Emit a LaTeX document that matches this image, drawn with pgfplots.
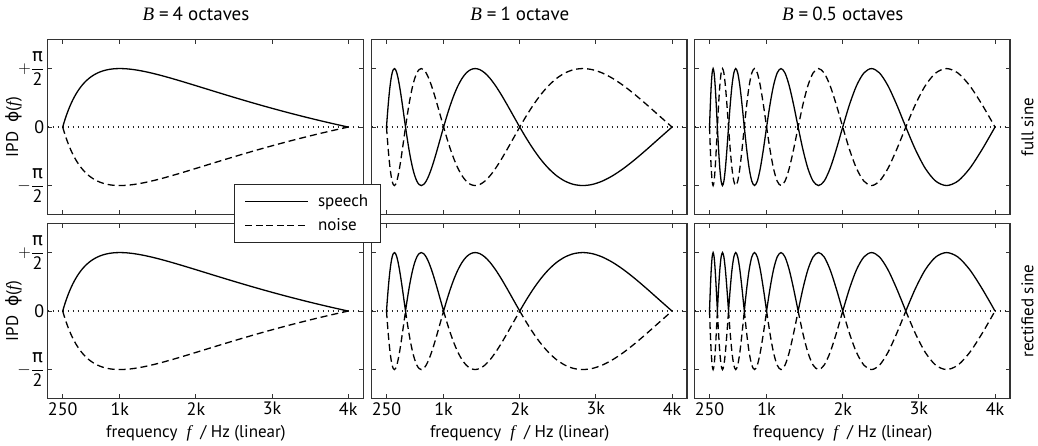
\documentclass[border=0pt]{standalone}
\usepackage{amsmath}
\usepackage{fontspec}
\setmainfont{PT Sans}
\newfontfamily\grk{DejaVu Sans}
\newfontfamily\serif{Liberation Serif}
\usepackage{pgfplots}
\pgfplotsset{compat=1.18}
\usepackage{pgfplotstable}

\newcommand\itf{{\serif\itshape f}}
\newcommand\vB{{\serif\itshape B}}
\newcommand\pifrac{\genfrac{}{}{0.7pt}{0}{\mbox{\grk π}}{\mbox{2}}}
\newcommand\fs{\fontsize{17}{20}\selectfont}
\newcommand\ft{\fontsize{18}{21}\selectfont}
\newcommand\fT{\fontsize{19}{22}\selectfont}

% f, full sine: B=4 (s4,n4), B=1 (s1,n1), B=0.5 (s5,n5); y in units of pi/2
\pgfplotstableread{
f s4 n4 s1 n1 s5 n5
250.00 0 0 0 0 0 0
261.07 .0491 -.0491 .1951 -.1951 .3827 -.3827
272.63 .0980 -.0980 .3827 -.3827 .7071 -.7071
284.70 .1467 -.1467 .5556 -.5556 .9239 -.9239
297.30 .1951 -.1951 .7071 -.7071 1 -1
310.46 .2430 -.2430 .8315 -.8315 .9239 -.9239
324.21 .2903 -.2903 .9239 -.9239 .7071 -.7071
338.56 .3369 -.3369 .9808 -.9808 .3827 -.3827
353.55 .3827 -.3827 1 -1 0 0
369.21 .4276 -.4276 .9808 -.9808 -.3827 .3827
385.55 .4714 -.4714 .9239 -.9239 -.7071 .7071
402.62 .5141 -.5141 .8315 -.8315 -.9239 .9239
420.45 .5556 -.5556 .7071 -.7071 -1 1
439.06 .5957 -.5957 .5556 -.5556 -.9239 .9239
458.50 .6344 -.6344 .3827 -.3827 -.7071 .7071
478.80 .6716 -.6716 .1951 -.1951 -.3827 .3827
500.00 .7071 -.7071 0 0 0 0
522.13 .7410 -.7410 -.1951 .1951 .3827 -.3827
545.25 .7730 -.7730 -.3827 .3827 .7071 -.7071
569.39 .8032 -.8032 -.5556 .5556 .9239 -.9239
594.60 .8315 -.8315 -.7071 .7071 1 -1
620.93 .8577 -.8577 -.8315 .8315 .9239 -.9239
648.42 .8819 -.8819 -.9239 .9239 .7071 -.7071
677.13 .9040 -.9040 -.9808 .9808 .3827 -.3827
707.11 .9239 -.9239 -1 1 0 0
738.41 .9415 -.9415 -.9808 .9808 -.3827 .3827
771.11 .9569 -.9569 -.9239 .9239 -.7071 .7071
805.25 .9700 -.9700 -.8315 .8315 -.9239 .9239
840.90 .9808 -.9808 -.7071 .7071 -1 1
878.13 .9892 -.9892 -.5556 .5556 -.9239 .9239
917.00 .9952 -.9952 -.3827 .3827 -.7071 .7071
957.60 .9988 -.9988 -.1951 .1951 -.3827 .3827
1000.00 1 -1 0 0 0 0
1044.27 .9988 -.9988 .1951 -.1951 .3827 -.3827
1090.51 .9952 -.9952 .3827 -.3827 .7071 -.7071
1138.79 .9892 -.9892 .5556 -.5556 .9239 -.9239
1189.21 .9808 -.9808 .7071 -.7071 1 -1
1241.86 .9700 -.9700 .8315 -.8315 .9239 -.9239
1296.84 .9569 -.9569 .9239 -.9239 .7071 -.7071
1354.26 .9415 -.9415 .9808 -.9808 .3827 -.3827
1414.21 .9239 -.9239 1 -1 0 0
1476.83 .9040 -.9040 .9808 -.9808 -.3827 .3827
1542.21 .8819 -.8819 .9239 -.9239 -.7071 .7071
1610.49 .8577 -.8577 .8315 -.8315 -.9239 .9239
1681.79 .8315 -.8315 .7071 -.7071 -1 1
1756.25 .8032 -.8032 .5556 -.5556 -.9239 .9239
1834.01 .7730 -.7730 .3827 -.3827 -.7071 .7071
1915.21 .7410 -.7410 .1951 -.1951 -.3827 .3827
2000.00 .7071 -.7071 0 0 0 0
2088.55 .6716 -.6716 -.1951 .1951 .3827 -.3827
2181.02 .6344 -.6344 -.3827 .3827 .7071 -.7071
2277.58 .5957 -.5957 -.5556 .5556 .9239 -.9239
2378.41 .5556 -.5556 -.7071 .7071 1 -1
2483.72 .5141 -.5141 -.8315 .8315 .9239 -.9239
2593.68 .4714 -.4714 -.9239 .9239 .7071 -.7071
2708.51 .4276 -.4276 -.9808 .9808 .3827 -.3827
2828.43 .3827 -.3827 -1 1 0 0
2953.65 .3369 -.3369 -.9808 .9808 -.3827 .3827
3084.42 .2903 -.2903 -.9239 .9239 -.7071 .7071
3220.98 .2430 -.2430 -.8315 .8315 -.9239 .9239
3363.59 .1951 -.1951 -.7071 .7071 -1 1
3512.50 .1467 -.1467 -.5556 .5556 -.9239 .9239
3668.02 .0980 -.0980 -.3827 .3827 -.7071 .7071
3830.41 .0491 -.0491 -.1951 .1951 -.3827 .3827
4000.00 0 0 0 0 0 0
}\fulldata

% rectified sine, B = 1 octave (r speech, m noise); nan rows separate lobes
\pgfplotstableread{
f r m
250.00 0 0
261.07 .1951 -.1951
272.63 .3827 -.3827
284.70 .5556 -.5556
297.30 .7071 -.7071
310.46 .8315 -.8315
324.21 .9239 -.9239
338.56 .9808 -.9808
353.55 1 -1
369.21 .9808 -.9808
385.55 .9239 -.9239
402.62 .8315 -.8315
420.45 .7071 -.7071
439.06 .5556 -.5556
458.50 .3827 -.3827
478.80 .1951 -.1951
500.00 0 0
nan nan nan
500.00 0 0
522.13 .1951 -.1951
545.25 .3827 -.3827
569.39 .5556 -.5556
594.60 .7071 -.7071
620.93 .8315 -.8315
648.42 .9239 -.9239
677.13 .9808 -.9808
707.11 1 -1
738.41 .9808 -.9808
771.11 .9239 -.9239
805.25 .8315 -.8315
840.90 .7071 -.7071
878.13 .5556 -.5556
917.00 .3827 -.3827
957.60 .1951 -.1951
1000.00 0 0
nan nan nan
1000.00 0 0
1044.27 .1951 -.1951
1090.51 .3827 -.3827
1138.79 .5556 -.5556
1189.21 .7071 -.7071
1241.86 .8315 -.8315
1296.84 .9239 -.9239
1354.26 .9808 -.9808
1414.21 1 -1
1476.83 .9808 -.9808
1542.21 .9239 -.9239
1610.49 .8315 -.8315
1681.79 .7071 -.7071
1756.25 .5556 -.5556
1834.01 .3827 -.3827
1915.21 .1951 -.1951
2000.00 0 0
nan nan nan
2000.00 0 0
2088.55 .1951 -.1951
2181.02 .3827 -.3827
2277.58 .5556 -.5556
2378.41 .7071 -.7071
2483.72 .8315 -.8315
2593.68 .9239 -.9239
2708.51 .9808 -.9808
2828.43 1 -1
2953.65 .9808 -.9808
3084.42 .9239 -.9239
3220.98 .8315 -.8315
3363.59 .7071 -.7071
3512.50 .5556 -.5556
3668.02 .3827 -.3827
3830.41 .1951 -.1951
4000.00 0 0
}\rectone

% rectified sine, B = 0.5 octaves
\pgfplotstableread{
f r m
250.00 0 0
261.07 .3827 -.3827
272.63 .7071 -.7071
284.70 .9239 -.9239
297.30 1 -1
310.46 .9239 -.9239
324.21 .7071 -.7071
338.56 .3827 -.3827
353.55 0 0
nan nan nan
353.55 0 0
369.21 .3827 -.3827
385.55 .7071 -.7071
402.62 .9239 -.9239
420.45 1 -1
439.06 .9239 -.9239
458.50 .7071 -.7071
478.80 .3827 -.3827
500.00 0 0
nan nan nan
500.00 0 0
522.13 .3827 -.3827
545.25 .7071 -.7071
569.39 .9239 -.9239
594.60 1 -1
620.93 .9239 -.9239
648.42 .7071 -.7071
677.13 .3827 -.3827
707.11 0 0
nan nan nan
707.11 0 0
738.41 .3827 -.3827
771.11 .7071 -.7071
805.25 .9239 -.9239
840.90 1 -1
878.13 .9239 -.9239
917.00 .7071 -.7071
957.60 .3827 -.3827
1000.00 0 0
nan nan nan
1000.00 0 0
1044.27 .3827 -.3827
1090.51 .7071 -.7071
1138.79 .9239 -.9239
1189.21 1 -1
1241.86 .9239 -.9239
1296.84 .7071 -.7071
1354.26 .3827 -.3827
1414.21 0 0
nan nan nan
1414.21 0 0
1476.83 .3827 -.3827
1542.21 .7071 -.7071
1610.49 .9239 -.9239
1681.79 1 -1
1756.25 .9239 -.9239
1834.01 .7071 -.7071
1915.21 .3827 -.3827
2000.00 0 0
nan nan nan
2000.00 0 0
2088.55 .3827 -.3827
2181.02 .7071 -.7071
2277.58 .9239 -.9239
2378.41 1 -1
2483.72 .9239 -.9239
2593.68 .7071 -.7071
2708.51 .3827 -.3827
2828.43 0 0
nan nan nan
2828.43 0 0
2953.65 .3827 -.3827
3084.42 .7071 -.7071
3220.98 .9239 -.9239
3363.59 1 -1
3512.50 .9239 -.9239
3668.02 .7071 -.7071
3830.41 .3827 -.3827
4000.00 0 0
}\rectfive

\pgfplotsset{
  panel/.style={
    scale only axis, width=315.5pt, height=175.5pt,
    anchor=north west,
    xmin=53, xmax=4197, ymin=-1.5, ymax=1.5,
    xtick={250,1000,2000,3000,4000}, ytick={-1,0,1},
    xticklabels={}, yticklabels={},
    tick align=inside, tick pos=both, major tick length=4.5pt,
    axis line style={line width=1.2pt, black!80},
    every tick/.style={line width=0.9pt, black!80},
    tick label style={font=\ft},
    label style={font=\fs},
    title style={font=\fT, at={(0.5,1)}, anchor=base, yshift=13.3pt, xshift=-9.5pt},
    unbounded coords=jump,
  },
  speech/.style={black, line width=1.3pt, smooth},
  noise/.style={black, line width=1.3pt, smooth, dash pattern=on 7pt off 4pt},
  zero/.style={black!85, line width=1.4pt, dash pattern=on 1.4pt off 3.6pt},
  bottomrow/.style={xticklabels={250,1k,2k,3k,4k},
    xlabel={frequency\ \ \itf\ \ / Hz (linear)},
    xlabel style={at={(axis description cs:0.5,0)}, anchor=base, xshift=-9.5pt, yshift=-39pt}},
  leftcol/.style={yticklabels={$-\pifrac$,0,$+\pifrac$},
    ylabel={IPD\ \ {\grk ϕ}(\itf)},
    ylabel style={at={(axis description cs:-0.081,0.5)}, anchor=south, inner sep=0pt}},
}

\newcommand\ttl[1]{\vB\hspace{5pt}=\hspace{4pt}#1}

\begin{document}
\begin{tikzpicture}[font=\fs]
\useasboundingbox (0,0) rectangle (1038pt,-445pt);

% ---- top row: full sine ----
\begin{axis}[panel, leftcol, at={(47.7pt,-39.3pt)}, title={\ttl{4 octaves}}]
\addplot[zero] coordinates {(53,0) (4197,0)};
\addplot[noise] table[x=f,y=n4] {\fulldata};
\addplot[speech] table[x=f,y=s4] {\fulldata};
\end{axis}

\begin{axis}[panel, at={(371.5pt,-39.3pt)}, title={\ttl{1 octave}}]
\addplot[zero] coordinates {(53,0) (4197,0)};
\addplot[noise] table[x=f,y=n1] {\fulldata};
\addplot[speech] table[x=f,y=s1] {\fulldata};
\end{axis}

\begin{axis}[panel, at={(694.5pt,-39.3pt)}, title={\ttl{0.5 octaves}}]
\addplot[zero] coordinates {(53,0) (4197,0)};
\addplot[noise] table[x=f,y=n5] {\fulldata};
\addplot[speech] table[x=f,y=s5] {\fulldata};
\end{axis}

% ---- bottom row: rectified sine ----
\begin{axis}[panel, leftcol, bottomrow, at={(47.7pt,-223.3pt)}]
\addplot[zero] coordinates {(53,0) (4197,0)};
\addplot[noise] table[x=f,y=n4] {\fulldata};
\addplot[speech] table[x=f,y=s4] {\fulldata};
\end{axis}

\begin{axis}[panel, bottomrow, at={(371.5pt,-223.3pt)}]
\addplot[zero] coordinates {(53,0) (4197,0)};
\addplot[noise] table[x=f,y=m] {\rectone};
\addplot[speech] table[x=f,y=r] {\rectone};
\end{axis}

\begin{axis}[panel, bottomrow, at={(694.5pt,-223.3pt)}]
\addplot[zero] coordinates {(53,0) (4197,0)};
\addplot[noise] table[x=f,y=m] {\rectfive};
\addplot[speech] table[x=f,y=r] {\rectfive};
\end{axis}

% ---- legend, drawn last so that it covers the frames ----
\begin{axis}[panel, at={(47.7pt,-39.3pt)}, hide axis,
  legend image code/.code={\draw[#1] (0pt,0pt) -- (63pt,0pt);},
  legend style={at={(axis description cs:1.0555,0.175)}, anchor=north east,
    draw=black!85, line width=0.9pt, fill=white, font=\fs,
    inner xsep=10pt, inner ysep=8.5pt, row sep=6pt, cells={anchor=west},
    /tikz/every odd column/.append style={column sep=7pt}}]
\addlegendimage{black, line width=1.3pt}
\addlegendentry{speech}
\addlegendimage{black, line width=1.3pt, dash pattern=on 7pt off 3.5pt}
\addlegendentry{noise}
\end{axis}

\node[rotate=90, anchor=north, inner sep=0pt] at (1021pt,-127.05pt) {full sine};
\node[rotate=90, anchor=north, inner sep=0pt] at (1021pt,-311.05pt) {rectified sine};
\end{tikzpicture}
\end{document}
